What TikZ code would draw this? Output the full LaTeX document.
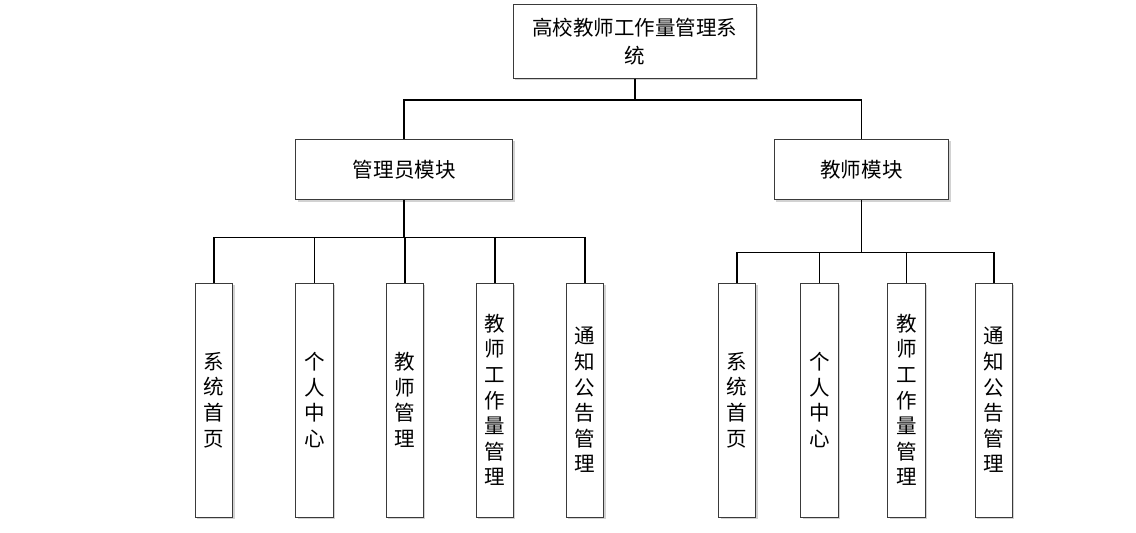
\documentclass[tikz,border=0pt]{standalone}
\usepackage{fontspec}
\setmainfont{Noto Sans CJK SC}
\usetikzlibrary{shadows}
\definecolor{boxline}{HTML}{3A3A3A}
\definecolor{shadecol}{HTML}{B4B4B4}

\begin{document}
\begin{tikzpicture}[x=0.025cm,y=-0.025cm,
  box/.style={draw=boxline,line width=.6pt,fill=white,align=center,inner sep=0pt,
    font=\fontsize{14.6}{18.2}\selectfont,
    drop shadow={shadow xshift=1.4pt,shadow yshift=-1.4pt,fill=shadecol,opacity=.6}},
  leaf/.style={box,minimum width=0.93cm,minimum height=5.85cm},
  link/.style={line width=1.3pt,black}]
\useasboundingbox (0,0) rectangle (1136,532);
% root, module and function boxes
\node[box,minimum width=6.07cm,minimum height=1.84cm,font=\fontsize{14.6}{19.8}\selectfont] (sys) at (634.7,41.5) {高校教师工作量管理系\\统};
\node[box,minimum width=5.42cm,minimum height=1.52cm] (adm) at (404.3,169.5) {管理员模块};
\node[box,minimum width=4.35cm,minimum height=1.52cm] (tea) at (861.5,169.5) {教师模块};
\node[leaf] (a1) at (214,400) {系\\统\\首\\页};
\node[leaf] (a2) at (314.5,400) {个\\人\\中\\心};
\node[leaf] (a3) at (404.7,400) {教\\师\\管\\理};
\node[leaf] (a4) at (494.8,400) {教\\师\\工\\作\\量\\管\\理};
\node[leaf] (a5) at (585,400) {通\\知\\公\\告\\管\\理};
\node[leaf] (t1) at (737.2,400) {系\\统\\首\\页};
\node[leaf] (t2) at (819.5,400) {个\\人\\中\\心};
\node[leaf] (t3) at (906.5,400) {教\\师\\工\\作\\量\\管\\理};
\node[leaf] (t4) at (993.9,400) {通\\知\\公\\告\\管\\理};
% bus levels
\coordinate (sysbus) at (0,100);
\coordinate (admbus) at (0,237.5);
\coordinate (teabus) at (0,252.5);
\foreach \m in {adm,tea}
  \draw[link] (sys.south) -- (sys.south |- sysbus) -| (\m.north);
\foreach \f in {a1,a2,a3,a4,a5}
  \draw[link] (adm.south) -- (adm.south |- admbus) -| (\f.north);
\foreach \f in {t1,t2,t3,t4}
  \draw[link] (tea.south) -- (tea.south |- teabus) -| (\f.north);
\end{tikzpicture}
\end{document}
